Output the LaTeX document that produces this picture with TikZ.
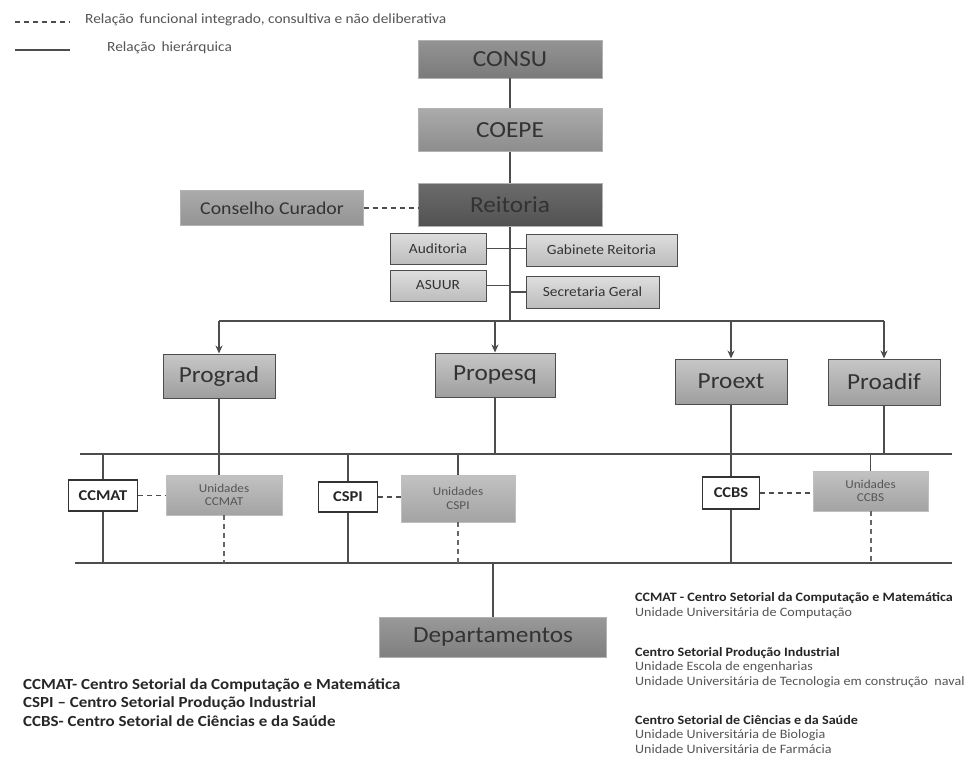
\documentclass[tikz,border=0pt]{standalone}
\usepackage{fontspec}
\setmainfont{Carlito}[FakeStretch=1.1]
\usetikzlibrary{arrows.meta}
\definecolor{ln}{HTML}{4D4D4D}
\definecolor{txt}{HTML}{333333}
\definecolor{lgt}{HTML}{555555}
\tikzset{
  hier/.style={draw=ln, line width=1.1pt},
  func/.style={draw=ln, line width=1.5pt, dash pattern=on 5pt off 4pt},
  vfunc/.style={draw=gray!80!black, line width=2pt, dash pattern=on 5pt off 4pt},
  arr/.style={hier, -{Stealth[length=8pt,width=7pt]}},
  topbox/.style={minimum width=184pt, minimum height=43pt, inner sep=0pt, draw=gray!60, text=txt, font=\fontsize{23}{25}\selectfont},
  probox/.style={minimum width=112pt, minimum height=44pt, inner sep=0pt, draw=ln, line width=1pt, top color=black!22, bottom color=black!38, text=txt, font=\fontsize{23}{25}\selectfont},
  smallbox/.style={minimum height=31pt, inner sep=0pt, draw=ln, line width=1pt, top color=black!13, bottom color=black!26, text=txt, font=\fontsize{14}{16}\selectfont},
  unibox/.style={minimum width=115pt, minimum height=40pt, inner sep=0pt, draw=gray!50, top color=black!24, bottom color=black!36, text=lgt, align=center, font=\fontsize{12}{13.5}\selectfont},
  ctrbox/.style={minimum height=31pt, inner sep=0pt, draw=black!80, line width=1.6pt, fill=white, text=black!85, font=\bfseries\fontsize{15}{17}\selectfont},
  legtext/.style={anchor=west, inner sep=0pt, text=lgt, font=\fontsize{14}{16}\selectfont},
  notehead/.style={anchor=west, inner sep=0pt, text=black!85, font=\bfseries\fontsize{12.8}{14}\selectfont},
  noteline/.style={anchor=west, inner sep=0pt, text=lgt, font=\fontsize{12.8}{14}\selectfont},
  leftnote/.style={anchor=west, inner sep=0pt, text=black!85, font=\bfseries\fontsize{15.4}{17}\selectfont}
}
\begin{document}
\begin{tikzpicture}[x=1pt,y=-1pt]
\useasboundingbox[fill=white] (0,0) rectangle (966,761);

% legend
\coordinate (l1a) at (15,22); \coordinate (l1b) at (70,22);
\coordinate (l2a) at (15,50); \coordinate (l2b) at (70,50);
\draw[func] (l1a) -- (l1b);
\draw[hier] (l2a) -- (l2b);
\node[legtext] (lt1) at (85,20) {Relação\, funcional integrado, consultiva e não deliberativa};
\node[legtext] (lt2) at (107,48) {Relação\, hierárquica};

% top chain
\node[topbox, minimum height=38pt, top color=black!42, bottom color=black!52] (consu) at (510,59) {CONSU};
\node[topbox, top color=black!33, bottom color=black!45] (coepe) at (510,130) {COEPE};
\node[topbox, top color=black!58, bottom color=black!68] (reit) at (510,205) {Reitoria};
\node[topbox, minimum width=183pt, minimum height=35pt, top color=black!33, bottom color=black!42, font=\fontsize{18}{20}\selectfont] (cur) at (272,208) {Conselho Curador};

\draw[hier] (consu) -- (coepe);
\draw[hier] (coepe) -- (reit);
\draw[func] (cur.east) -- (cur.east -| reit.west);

% staff boxes
\node[smallbox, minimum width=96pt] (aud) at (438,248.5) {Auditoria};
\node[smallbox, minimum width=96pt] (asuur) at (438,285.5) {ASUUR};
\node[smallbox, minimum width=151pt, minimum height=32pt] (gab) at (601.5,250) {Gabinete Reitoria};
\node[smallbox, minimum width=133pt, minimum height=32pt] (sec) at (592.5,292) {Secretaria Geral};

\coordinate (dist) at (510,321);
\draw[hier] (reit.south) -- (dist);
\draw[hier] (aud.east) -- (aud.east -| gab.west);
\draw[hier] (asuur.east) -- (asuur.east -| dist);
\draw[hier] (sec.west) -- (sec.west -| dist);

% pro-reitorias
\node[probox] (prograd) at (219,376) {Prograd};
\node[probox, minimum width=120pt] (propesq) at (495,375) {Propesq};
\node[probox, minimum height=45pt] (proext) at (731,381.5) {Proext};
\node[probox, minimum height=46pt] (proadif) at (884,382) {Proadif};

\coordinate (dl) at (219,321); \coordinate (dr) at (884,321);
\draw[hier] (dl) -- (dr);
\draw[arr] (dl) -- (prograd.north);
\draw[arr] (dist -| propesq.north) -- (propesq.north);
\draw[arr] (dist -| proext.north) -- (proext.north);
\draw[arr] (dr) -- (proadif.north);

% buses
\coordinate (b1l) at (80,454); \coordinate (b1r) at (952,454);
\coordinate (b2l) at (75,563); \coordinate (b2r) at (952,563);
\draw[hier] (b1l) -- (b1r);
\draw[hier] (b2l) -- (b2r);

% centres and units
\node[ctrbox, minimum width=69pt] (ccmat) at (103,495.5) {CCMAT};
\node[unibox, minimum width=116pt] (uccmat) at (224,495) {Unidades\\CCMAT};
\node[ctrbox, minimum width=59pt, minimum height=30pt] (cspi) at (348,497) {CSPI};
\node[unibox, minimum width=114pt, minimum height=47pt] (ucspi) at (458,498.5) {Unidades\\CSPI};
\node[ctrbox, minimum width=57pt, minimum height=32pt] (ccbs) at (731,493) {CCBS};
\node[unibox] (uccbs) at (870.5,491) {Unidades\\CCBS};

% verticals between buses
\draw[hier] (ccmat.north |- b1l) -- (ccmat.north);
\draw[hier] (ccmat.south) -- (ccmat.south |- b2l);
\draw[hier] (cspi.north |- b1l) -- (cspi.north);
\draw[hier] (cspi.south) -- (cspi.south |- b2l);
\draw[hier] (proext.south) -- (ccbs.north);
\draw[hier] (ccbs.south) -- (ccbs.south |- b2l);
\draw[hier] (prograd.south) -- (prograd.south |- uccmat.north);
\draw[hier] (propesq.south) -- (propesq.south |- b1l);
\draw[hier] (proadif.south) -- (proadif.south |- b1l);
\draw[hier] (ucspi.north |- b1l) -- (ucspi.north);
\draw[hier] (uccbs.north |- b1l) -- (uccbs.north);

\draw[func] (ccmat.east) -- (ccmat.east -| uccmat.west);
\draw[func] (cspi.east) -- (cspi.east -| ucspi.west);
\draw[func] (ccbs.east) -- (ccbs.east -| uccbs.west);
\draw[vfunc] (uccmat.south) -- (uccmat.south |- b2l);
\draw[vfunc] (ucspi.south) -- (ucspi.south |- b2l);
\draw[vfunc] (uccbs.south) -- (uccbs.south |- b2l);

% departamentos
\node[topbox, minimum width=227pt, minimum height=40pt, top color=black!40, bottom color=black!50, font=\fontsize{23}{25}\selectfont] (dep) at (493,637) {Departamentos};
\coordinate (dtop) at (493,563);
\draw[hier] (dtop) -- (dep.north);

% left notes
\node[leftnote] (n1) at (23,685) {CCMAT- Centro Setorial da Computação e Matemática};
\node[leftnote] (n2) at (23,703) {CSPI – Centro Setorial Produção Industrial};
\node[leftnote] (n3) at (23,721) {CCBS- Centro Setorial de Ciências e da Saúde};

% right notes
\node[notehead] (r1) at (635,598) {CCMAT - Centro Setorial da Computação e Matemática};
\node[noteline] (r2) at (635,613) {Unidade Universitária de Computação};
\node[notehead] (r3) at (635,653) {Centro Setorial Produção Industrial};
\node[noteline] (r4) at (635,667) {Unidade Escola de engenharias};
\node[noteline] (r5) at (635,682) {Unidade Universitária de Tecnologia em construção\ \ naval};
\node[notehead] (r6) at (635,720) {Centro Setorial de Ciências e da Saúde};
\node[noteline] (r7) at (635,735) {Unidade Universitária de Biologia};
\node[noteline] (r8) at (635,749) {Unidade Universitária de Farmácia};
\end{tikzpicture}
\end{document}
